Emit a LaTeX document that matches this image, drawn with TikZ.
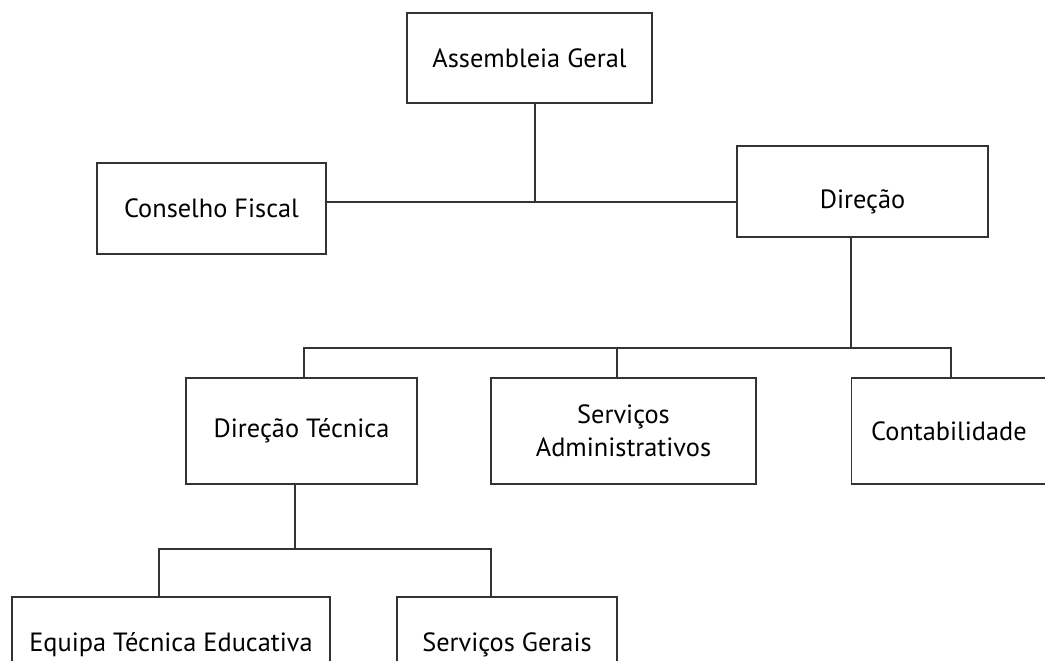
\documentclass[tikz,border=0pt]{standalone}
\usepackage{fontspec}
\setmainfont{PT Sans}
\usepackage{tikz}
\usetikzlibrary{positioning}

\begin{document}
\begin{tikzpicture}[x=0.02cm,y=-0.02cm,
              line width=1.1pt, draw=black!80,
              box/.style={draw=black!80, line width=1.1pt, rectangle, align=center,
                          font=\fontsize{15}{18.5}\selectfont, inner sep=0pt},
              link/.style={draw=black!80, line width=1.1pt}]
  \useasboundingbox (0,0) rectangle (1045,660);
  \clip (0,0) rectangle (1045,660);
  % top level
  \node[box, minimum width=4.9cm, minimum height=1.8cm] (ag) at (529.5,58) {Assembleia Geral};
  \node[box, minimum width=4.58cm, minimum height=1.82cm] (cf) at (211.5,208.5) {Conselho Fiscal};
  \node[box, minimum width=5.02cm, minimum height=1.82cm,
        text height=0.79cm, text depth=0.12cm] (dir) at (862.5,191.5) {Direção};
  % second level
  \node[box, minimum width=4.62cm, minimum height=2.12cm] (dt) at (301.5,431) {Direção Técnica};
  \node[box, minimum width=5.3cm, minimum height=2.12cm] (sa) at (623.5,431) {Serviços\\Administrativos};
  \node[box, minimum width=3.9cm, minimum height=2.12cm] (cont) at (949,431) {Contabilidade};
  % third level
  \node[box, minimum width=6.36cm, minimum height=1.9cm] (ete) at (171,644.5) {Equipa Técnica Educativa};
  \node[box, minimum width=4.4cm, minimum height=1.9cm] (sg) at (507,644.5) {Serviços Gerais};
  \coordinate (j1) at (535,202);
  \coordinate (j2) at (851,348);
  \coordinate (j3) at (295,549);
  \draw[link] (cf.east |- j1) -- (dir.west |- j1);
  \draw[link] (ag.south -| j1) -- (j1);
  \draw[link] (dir.south -| j2) -- (j2);
  \draw[link] (304,378) |- (j2) -| (cont.north -| 951,0);
  \draw[link] (sa.north -| 617,0) -- (617,348);
  \draw[link] (dt.south -| j3) -- (j3);
  \draw[link] (ete.north -| 159,0) |- (j3) -| (sg.north -| 491,0);
\end{tikzpicture}
\end{document}
